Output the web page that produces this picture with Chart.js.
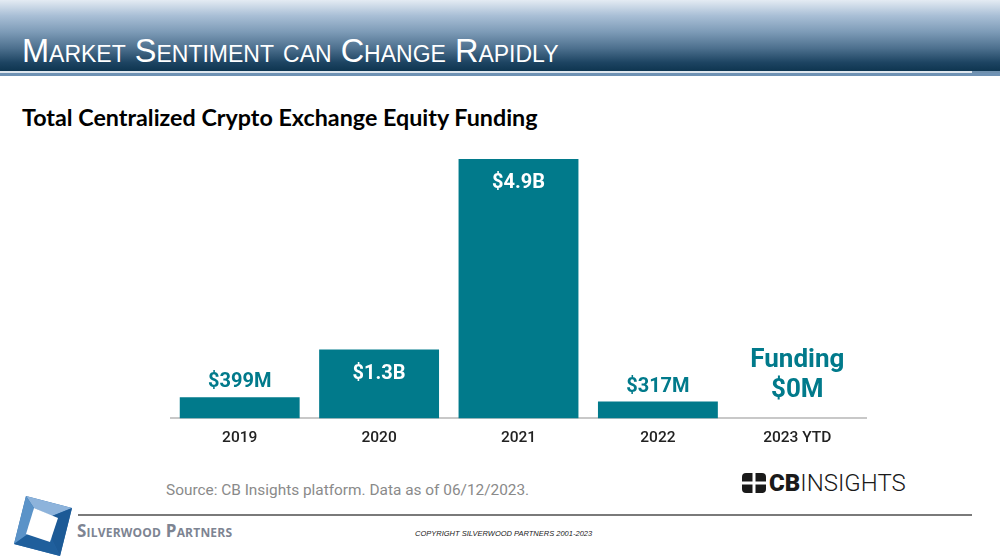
<!DOCTYPE html>
<html><head><meta charset="utf-8">
<script src="https://cdn.jsdelivr.net/npm/chart.js@4.4.0/dist/chart.umd.min.js"></script>
<style>
html,body{margin:0;padding:0;background:#fff;}
#page{position:relative;width:1000px;height:560px;overflow:hidden;background:#fff;font-family:Roboto,"Liberation Sans",sans-serif;}
#hdr{position:absolute;left:0;top:0;width:1000px;height:71px;background:linear-gradient(to bottom,#e4ebf3 0%,#a9bfd6 22%,#7d9bb7 45%,#4d708e 68%,#1d4462 88%,#0e3550 100%);}
#hdrline1{position:absolute;left:0;top:71px;width:972px;height:2px;background:#dfe7ef;}
#hdrline1b{position:absolute;left:972px;top:71px;width:28px;height:2px;background:#6f90ae;}
#hdrline2{position:absolute;left:0;top:73px;width:1000px;height:3px;background:#6f92b4;}
#hdrtitle{position:absolute;left:22px;top:32px;color:#fff;font-family:"Liberation Sans Narrow","Liberation Sans",Arial,sans-serif;font-size:32.5px;font-variant:small-caps;letter-spacing:0px;white-space:nowrap;line-height:38px;}
#ctitle{position:absolute;left:22px;top:103px;font-family:Lato,"Open Sans",sans-serif;font-weight:bold;font-size:23.3px;color:#000;white-space:nowrap;line-height:28px;}
#chartbox{position:absolute;left:170px;top:140px;width:697px;height:317px;}
#source{position:absolute;left:166px;top:480px;font-size:15.4px;color:#8a8a8a;white-space:nowrap;line-height:20px;}
#cb{position:absolute;left:742px;top:470px;height:26px;white-space:nowrap;font-size:24px;color:#1a1a1a;line-height:26px;}
#cb svg{position:absolute;left:0;top:3px;}
#cb span{position:absolute;left:27px;top:0;}
#footline{position:absolute;left:78px;top:514px;width:894px;height:2px;background:#7a7a7a;}
#swtext{position:absolute;left:77px;top:520px;font-family:"Open Sans","Liberation Sans",sans-serif;font-weight:bold;font-size:17px;font-variant:small-caps;color:#7d8492;white-space:nowrap;line-height:22px;letter-spacing:0.2px;}
#copy{position:absolute;left:415px;top:529px;font-family:"Liberation Sans",Arial,sans-serif;font-style:italic;font-size:7.5px;color:#222;white-space:nowrap;}
#logo{position:absolute;left:12px;top:496px;}
</style></head>
<body><div id="page">
<div id="hdr"></div><div id="hdrline1"></div><div id="hdrline1b"></div><div id="hdrline2"></div>
<div id="hdrtitle">Market Sentiment can Change Rapidly</div>
<div id="ctitle">Total Centralized Crypto Exchange Equity Funding</div>
<div id="chartbox"><canvas id="c"></canvas></div>
<div id="source">Source: CB Insights platform. Data as of 06/12/2023.</div>
<div id="cb"><svg width="24" height="20" viewBox="0 0 24 20"><rect x="0" y="0" width="24" height="20" rx="4" fill="#1a1a1a"/><rect x="10.5" y="0" width="3" height="20" fill="#fff"/><rect x="0" y="8.5" width="24" height="3" fill="#fff"/></svg><span><b style="font-weight:900">CB</b><span style="position:static;font-weight:300">INSIGHTS</span></span></div>
<div id="footline"></div>
<svg id="logo" width="62" height="62" viewBox="0 0 62 62">
<polygon points="14,0 60,12 48,60 2,48" fill="#2f6fae"/>
<polygon points="14,0 60,12 40,20 22,12" fill="#8db3db"/>
<polygon points="2,48 14,0 22,12 16,38" fill="#5b93c8"/>
<polygon points="48,60 2,48 16,38 40,44" fill="#1f5f9c"/>
<polygon points="60,12 48,60 40,44 40,20" fill="#1c5a96"/>
<polygon points="22,12 46,22 38,46 14,38" fill="#ffffff"/>
</svg>
<div id="swtext">Silverwood Partners</div>
<div id="copy">COPYRIGHT SILVERWOOD PARTNERS 2001-2023</div>
</div>
<script>
const categories = ["2019","2020","2021","2022","2023 YTD"];
const fundingM = [399, 1300, 4900, 317, 0];
const valueLabels = ["$399M","$1.3B","$4.9B","$317M","$0M"];
const zeroPrefix = "Funding";
const teal = "#017a8b";

const labelPlugin = {
  id:'barLabels',
  afterDatasetsDraw(chart){
    const ctx = chart.ctx;
    const meta = chart.getDatasetMeta(0);
    ctx.save();
    ctx.textAlign = 'center';
    ctx.textBaseline = 'middle';
    meta.data.forEach((bar,i)=>{
      const h = bar.base - bar.y;
      const txt = valueLabels[i];
      ctx.font = 'bold 20px Roboto';
      if (fundingM[i] === 0){
        ctx.fillStyle = teal;
        ctx.font = 'bold 26px Roboto';
        ctx.fillText(zeroPrefix, bar.x, bar.base - 58);
        ctx.fillText(txt, bar.x, bar.base - 28);
      } else if (h > 40){
        ctx.fillStyle = '#ffffff';
        ctx.fillText(txt, bar.x, bar.y + 24);
      } else {
        ctx.fillStyle = teal;
        ctx.fillText(txt, bar.x, bar.y - 15);
      }
    });
    ctx.restore();
  }
};

new Chart(document.getElementById('c'), {
  type:'bar',
  data:{labels:categories, datasets:[{data:fundingM, backgroundColor:teal, borderWidth:0, barPercentage:0.86, categoryPercentage:1.0}]},
  options:{
    responsive:true, maintainAspectRatio:false, animation:false,
    layout:{padding:{top:19,left:0,right:0,bottom:0}},
    plugins:{legend:{display:false}, tooltip:{enabled:false}},
    scales:{
      x:{grid:{display:false, drawTicks:false}, border:{display:true,color:'#c8c8c8',width:2},
         ticks:{color:'#222', font:{family:'Roboto', size:15.5, weight:'500'}, padding:10}},
      y:{display:false, min:0, max:4900}
    }
  },
  plugins:[labelPlugin]
});
</script>
</body></html>
